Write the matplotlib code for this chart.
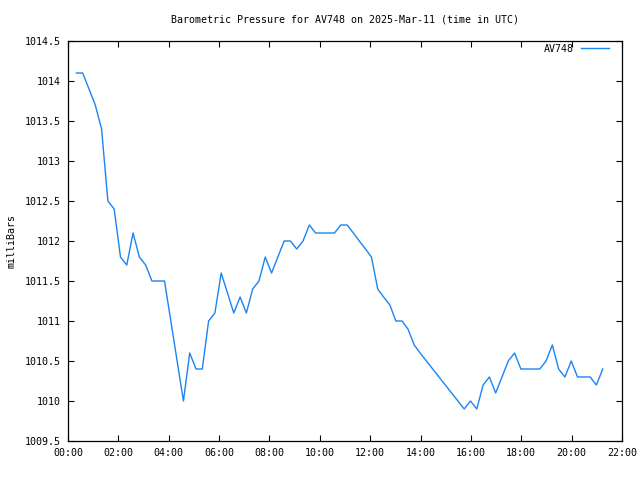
import matplotlib
matplotlib.use("Agg")
import matplotlib.pyplot as plt
import matplotlib.dates as mdates
import pandas as pd

# readings (UTC), 2025-03-11
times = [
    "00:20", "00:35", "00:50", "01:05", "01:20", "01:35", "01:50", "02:05",
    "02:20", "02:35", "02:50", "03:05", "03:20", "03:35", "03:50", "04:05",
    "04:20", "04:35", "04:50", "05:05", "05:20", "05:35", "05:50", "06:05",
    "06:20", "06:35", "06:50", "07:05", "07:20", "07:35", "07:50", "08:05",
    "08:20", "08:35", "08:50", "09:05", "09:20", "09:35", "09:50", "10:05",
    "10:20", "10:35", "10:50", "11:05", "11:20", "11:34", "11:49", "12:03",
    "12:18", "12:32", "12:47", "13:01", "13:16", "13:30", "13:45", "13:59",
    "14:14", "14:29", "14:44", "14:59", "15:14", "15:29", "15:44", "15:59",
    "16:14", "16:29", "16:44", "16:59", "17:14", "17:29", "17:44", "17:59",
    "18:14", "18:29", "18:44", "18:59", "19:14", "19:29", "19:44", "19:59",
    "20:14", "20:29", "20:44", "20:59", "21:14",
]
pressure = [
    1014.1, 1014.1, 1013.9, 1013.7, 1013.4, 1012.5, 1012.4, 1011.8,
    1011.7, 1012.1, 1011.8, 1011.7, 1011.5, 1011.5, 1011.5, 1011.0,
    1010.5, 1010.0, 1010.6, 1010.4, 1010.4, 1011.0, 1011.1, 1011.6,
    1011.35, 1011.1, 1011.3, 1011.1, 1011.4, 1011.5, 1011.8, 1011.6,
    1011.8, 1012.0, 1012.0, 1011.9, 1012.0, 1012.2, 1012.1, 1012.1,
    1012.1, 1012.1, 1012.2, 1012.2, 1012.1, 1012.0, 1011.9, 1011.8,
    1011.4, 1011.3, 1011.2, 1011.0, 1011.0, 1010.9, 1010.7, 1010.6,
    1010.5, 1010.4, 1010.3, 1010.2, 1010.1, 1010.0, 1009.9, 1010.0,
    1009.9, 1010.2, 1010.3, 1010.1, 1010.3, 1010.5, 1010.6, 1010.4,
    1010.4, 1010.4, 1010.4, 1010.5, 1010.7, 1010.4, 1010.3, 1010.5,
    1010.3, 1010.3, 1010.3, 1010.2, 1010.4,
]
station = "AV748"
day = "2025-03-11"

x = pd.to_datetime([f"{day} {t}" for t in times])
day0 = pd.Timestamp(day)

plt.rcParams["font.family"] = ["DejaVu Sans Mono"]
plt.rcParams["font.size"] = 7.2

fig = plt.figure(figsize=(6.4, 4.8), dpi=100)
ax = fig.add_axes([68 / 640, 39 / 480, 554 / 640, 400 / 480])

ax.plot(x, pressure, color="#1a84f2", lw=1.0, label=station)

ax.set_xlim(day0, day0 + pd.Timedelta(hours=22))
ax.set_ylim(1009.5, 1014.5)
ax.xaxis.set_major_locator(mdates.HourLocator(interval=2))
ax.xaxis.set_major_formatter(mdates.DateFormatter("%H:%M"))
ax.yaxis.set_major_locator(plt.MultipleLocator(0.5))
ax.yaxis.set_major_formatter(plt.FuncFormatter(lambda v, p: f"{v:g}"))

ax.tick_params(direction="in", length=4, width=0.8, top=True, right=True,
               labelsize=7.2, pad=5)
for s in ax.spines.values():
    s.set_linewidth(0.9)

ax.set_ylabel("milliBars", fontsize=7.2, labelpad=6)
fig.text(345 / 640, 1 - 20 / 480,
         f"Barometric Pressure for {station} on 2025-Mar-11 (time in UTC)",
         ha="center", va="center", fontsize=7.2)

ax.legend(loc="upper right", frameon=False, markerfirst=False,
          handlelength=2.8, handletextpad=0.7, borderaxespad=0.3,
          bbox_to_anchor=(1 - 6 / 554, 1 + 4 / 400), fontsize=7.2)

fig.savefig("out.png", dpi=100)
